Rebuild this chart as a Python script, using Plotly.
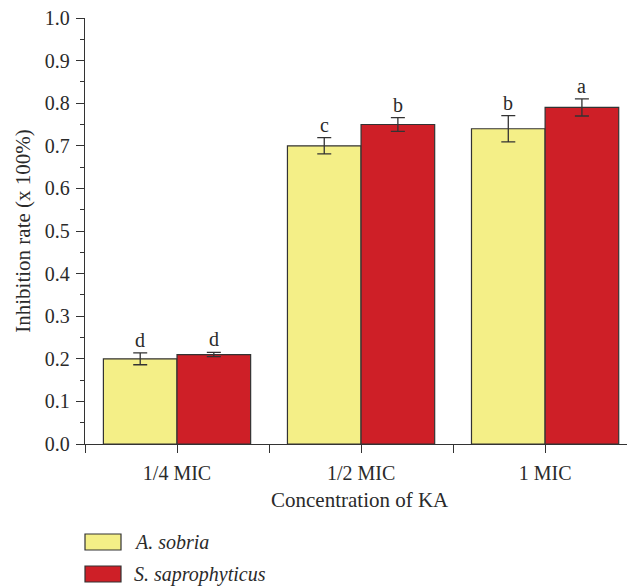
import plotly.graph_objects as go

categories = ["1/4 MIC", "1/2 MIC", "1 MIC"]
series_names = ["A. sobria", "S. saprophyticus"]
sobria_vals = [0.20, 0.70, 0.74]
sobria_err = [0.014, 0.019, 0.031]
sapro_vals = [0.21, 0.75, 0.79]
sapro_err = [0.005, 0.016, 0.020]
sobria_letters = ["d", "c", "b"]
sapro_letters = ["d", "b", "a"]

colors = ["#F4EF87", "#CE1F27"]
FONT = "Liberation Serif, Times New Roman, serif"
TXT = "#2a2a2a"

W, H = 627, 586
ML, MR, MT, MB = 85, 0, 18, 142
pw, ph = W - ML - MR, H - MT - MB

def px_to_paper_x(px):
    return (px - ML) / pw

def px_to_paper_y(py):
    return (H - MB - py) / ph

xpos = list(range(len(categories)))

fig = go.Figure()
for name, vals, errs, col in [
    (series_names[0], sobria_vals, sobria_err, colors[0]),
    (series_names[1], sapro_vals, sapro_err, colors[1]),
]:
    fig.add_trace(go.Bar(
        x=xpos, y=vals, name=name,
        marker=dict(color=col, line=dict(color="#333333", width=1.2)),
        error_y=dict(type="data", array=errs, visible=True, color="#333333",
                     thickness=1.3, width=7),
        showlegend=False,
    ))

annots = []
for i in xpos:
    for off, vals, errs, letters in [(-0.2, sobria_vals, sobria_err, sobria_letters),
                                     (0.2, sapro_vals, sapro_err, sapro_letters)]:
        annots.append(dict(x=i + off, y=vals[i] + errs[i], xref="x", yref="y",
                           text=letters[i], showarrow=False, yanchor="bottom",
                           yshift=0, font=dict(family=FONT, size=20, color=TXT)))

annots.append(dict(x=px_to_paper_x(360), y=px_to_paper_y(500), xref="paper", yref="paper",
                   text="Concentration of KA", showarrow=False, yanchor="middle",
                   font=dict(family=FONT, size=21, color=TXT)))

fig.update_layout(
    width=W, height=H,
    margin=dict(l=ML, r=MR, t=MT, b=MB, autoexpand=False),
    paper_bgcolor="white", plot_bgcolor="white",
    barmode="group", bargap=0.2, bargroupgap=0,
    font=dict(family=FONT, color=TXT),
    xaxis=dict(
        range=[-0.5, 2.445], tickmode="array", tickvals=xpos, ticktext=categories,
        showline=True, linecolor="#333333", linewidth=1.3,
        ticks="outside", ticklen=8, tickwidth=1.3, tickcolor="#333333",
        tickfont=dict(family=FONT, size=20, color=TXT),
        ticklabelstandoff=3,
        showgrid=False, zeroline=False,
        minor=dict(tickmode="array", tickvals=[-0.5, 0.5, 1.5], ticks="outside",
                   ticklen=8, tickwidth=1.3, tickcolor="#333333", showgrid=False),
    ),
    yaxis=dict(
        range=[0, 1.0], tickmode="linear", tick0=0, dtick=0.1, tickformat=".1f",
        showline=True, linecolor="#333333", linewidth=1.3,
        ticks="outside", ticklen=8, tickwidth=1.3, tickcolor="#333333",
        tickfont=dict(family=FONT, size=20, color=TXT),
        ticklabelstandoff=2,
        showgrid=False, zeroline=False,
        title=dict(text="Inhibition rate (x 100%)", font=dict(family=FONT, size=21, color=TXT),
                   standoff=8),
        minor=dict(dtick=0.05, tick0=0, ticks="outside", ticklen=4, tickwidth=1.3,
                   tickcolor="#333333", showgrid=False),
    ),
    annotations=annots,
)

legend_rows = [(series_names[0], colors[0], 542), (series_names[1], colors[1], 574)]
for name, col, cy in legend_rows:
    fig.add_shape(type="rect", xref="paper", yref="paper",
                  x0=px_to_paper_x(85), x1=px_to_paper_x(121),
                  y0=px_to_paper_y(cy + 8), y1=px_to_paper_y(cy - 8),
                  fillcolor=col, line=dict(color="#333333", width=1.2))
    fig.add_annotation(xref="paper", yref="paper", x=px_to_paper_x(132), y=px_to_paper_y(cy),
                       text="<i>" + name + "</i>", showarrow=False, xanchor="left",
                       yanchor="middle", font=dict(family=FONT, size=20, color=TXT))

fig.write_html("out.html")
